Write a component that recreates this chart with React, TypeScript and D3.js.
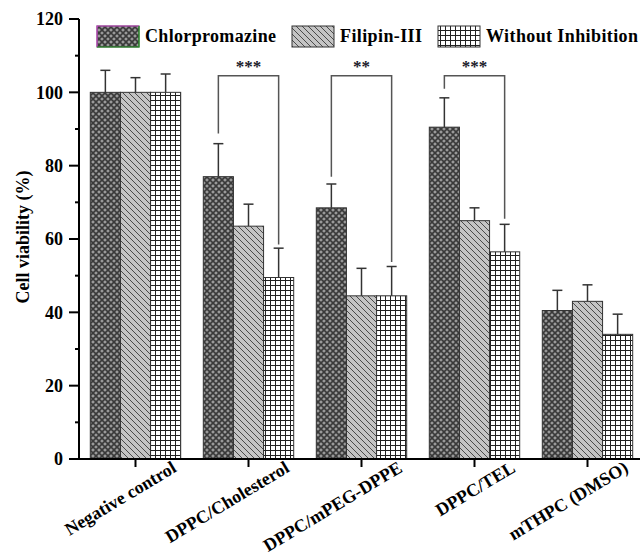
import React from 'react';
import * as d3 from 'd3';

// groups on the x axis
const categories = ['Negative control', 'DPPC/Cholesterol', 'DPPC/mPEG-DPPE', 'DPPC/TEL', 'mTHPC (DMSO)'];
const seriesNames = ['Chlorpromazine', 'Filipin-III', 'Without Inhibition'];

// mean cell viability (%)
const chlorpromazine = [100, 77, 68.5, 90.5, 40.5];
const filipin = [100, 63.5, 44.5, 65, 43];
const withoutInhibition = [100, 49.5, 44.5, 56.5, 34];

// error (upper whisker only)
const chlorpromazineErr = [6, 9, 6.5, 8, 5.5];
const filipinErr = [4, 6, 7.5, 3.5, 4.5];
const withoutErr = [5, 8, 8, 7.5, 5.5];

const yTicks = [0, 20, 40, 60, 80, 100, 120];
const yMinorTicks = [10, 30, 50, 70, 90, 110];

// significance brackets: group index, star label, top, left leg end, right leg end
const sigGroups = [1, 2, 3];
const sigLabels = ['***', '**', '***'];
const sigTop = [104.5, 104.5, 104.5];
const sigLeftEnd = [88.8, 77, 101];
const sigRightEnd = [58.5, 53.7, 65.5];

const width = 640;
const height = 553;
const serif = '"Liberation Serif", "Times New Roman", serif';

export default function App() {
  const values = [chlorpromazine, filipin, withoutInhibition];
  const errs = [chlorpromazineErr, filipinErr, withoutErr];
  const fills = ['url(#pCross)', 'url(#pDiag)', 'url(#pGrid)'];

  const x = d3.scaleBand<string>().domain(categories).range([79, 644]).paddingInner(0.2).paddingOuter(0.1);
  const xi = d3.scaleBand<string>().domain(seriesNames).range([0, x.bandwidth()]);
  const y = d3.scaleLinear().domain([0, 120]).range([459, 19]);

  const barCenter = (g: number, s: number) => (x(categories[g]) ?? 0) + (xi(seriesNames[s]) ?? 0) + xi.bandwidth() / 2;

  const legendX = [97, 292, 438];
  const legendTextW = [131, 82, 152];

  return (
    <svg width={width} height={height} style={{ position: 'absolute', left: 0, top: 0, background: '#fff' }}>
      <defs>
        <pattern id="pCross" width="6" height="6" patternUnits="userSpaceOnUse">
          <rect width="6" height="6" fill="#9a9a9a" />
          <path d="M0,0 L6,6 M6,0 L0,6" stroke="#3a3a3a" strokeWidth="1.6" />
          <path d="M-3,3 L3,9 M3,-3 L9,3 M-3,3 L3,-3 M3,9 L9,3" stroke="#3a3a3a" strokeWidth="1.6" />
        </pattern>
        <pattern id="pDiag" width="6" height="6" patternUnits="userSpaceOnUse">
          <rect width="6" height="6" fill="#c4c4c4" />
          <path d="M-1,-1 L7,7 M-4,2 L2,8 M2,-4 L8,2" stroke="#3c3c3c" strokeWidth="0.9" />
        </pattern>
        <pattern id="pGrid" width="5" height="5" patternUnits="userSpaceOnUse">
          <rect width="5" height="5" fill="#fff" />
          <path d="M0,0.5 H5 M0.5,0 V5" stroke="#222" strokeWidth="1" />
        </pattern>
      </defs>

      {/* bars */}
      {values.map((vals, s) =>
        vals.map((v, g) => (
          <rect
            key={`b${s}-${g}`}
            x={(x(categories[g]) ?? 0) + (xi(seriesNames[s]) ?? 0)}
            y={y(v)}
            width={xi.bandwidth()}
            height={y(0) - y(v)}
            fill={fills[s]}
            stroke="#333"
            strokeWidth={1}
          />
        ))
      )}

      {/* error bars */}
      {values.map((vals, s) =>
        vals.map((v, g) => {
          const cx = barCenter(g, s);
          const top = y(v + errs[s][g]);
          return (
            <g key={`e${s}-${g}`} stroke="#333" strokeWidth={1.5}>
              <line x1={cx} x2={cx} y1={y(v)} y2={top} />
              <line x1={cx - 5} x2={cx + 5} y1={top} y2={top} />
            </g>
          );
        })
      )}

      {/* significance brackets */}
      {sigGroups.map((g, i) => {
        const lx = barCenter(g, 0);
        const rx = barCenter(g, 2);
        const ty = y(sigTop[i]);
        return (
          <g key={`s${i}`}>
            <path
              d={`M${lx},${y(sigLeftEnd[i])} V${ty} H${rx} V${y(sigRightEnd[i])}`}
              fill="none"
              stroke="#555"
              strokeWidth={1.5}
            />
            <text x={(lx + rx) / 2} y={ty - 4} textAnchor="middle" fontFamily={serif} fontWeight="bold" fontSize={17} fill="#1a1a2a">
              {sigLabels[i]}
            </text>
          </g>
        );
      })}

      {/* y axis */}
      <line x1={79} x2={79} y1={y(120)} y2={y(0)} stroke="#000" strokeWidth={2} />
      {yTicks.map((t) => (
        <g key={`yt${t}`}>
          <line x1={69} x2={79} y1={y(t)} y2={y(t)} stroke="#000" strokeWidth={2} />
          <text x={63} y={y(t)} dy="0.35em" textAnchor="end" fontFamily={serif} fontWeight="bold" fontSize={18}>
            {t}
          </text>
        </g>
      ))}
      {yMinorTicks.map((t) => (
        <line key={`ym${t}`} x1={75} x2={79} y1={y(t)} y2={y(t)} stroke="#000" strokeWidth={2} />
      ))}
      <text
        transform={`translate(23,${y(60) - 2}) rotate(-90)`}
        textAnchor="middle"
        dy="0.35em"
        fontFamily={serif}
        fontWeight="bold"
        fontSize={18}
      >
        Cell viability (%)
      </text>

      {/* x axis */}
      <line x1={78} x2={640} y1={y(0)} y2={y(0)} stroke="#000" strokeWidth={2} />
      {categories.map((c) => {
        const cx = (x(c) ?? 0) + x.bandwidth() / 2;
        return (
          <g key={`xt${c}`}>
            <line x1={cx} x2={cx} y1={y(0)} y2={y(0) + 8} stroke="#000" strokeWidth={2} />
            <text
              transform={`translate(${cx + 42},${y(0) + 12}) rotate(-31)`}
              textAnchor="end"
              fontFamily={serif}
              fontWeight="bold"
              fontSize={18}
            >
              {c}
            </text>
          </g>
        );
      })}

      {/* legend */}
      {seriesNames.map((n, i) => (
        <g key={`lg${n}`}>
          <rect x={legendX[i]} y={26} width={42} height={21} fill={fills[i]} stroke="#333" strokeWidth={1} />
          {i === 0 && (
            <>
              <path d={`M${legendX[i]},47 V26 H${legendX[i] + 42}`} fill="none" stroke="#d24fd2" strokeWidth={1.2} />
              <path d={`M${legendX[i] + 42},26 V47 H${legendX[i]}`} fill="none" stroke="#2a9a2a" strokeWidth={1.2} />
            </>
          )}
          <text
            x={legendX[i] + 48}
            y={42}
            fontFamily={serif}
            fontWeight="bold"
            fontSize={18}
            textLength={legendTextW[i]}
            lengthAdjust="spacing"
          >
            {n}
          </text>
        </g>
      ))}
    </svg>
  );
}
